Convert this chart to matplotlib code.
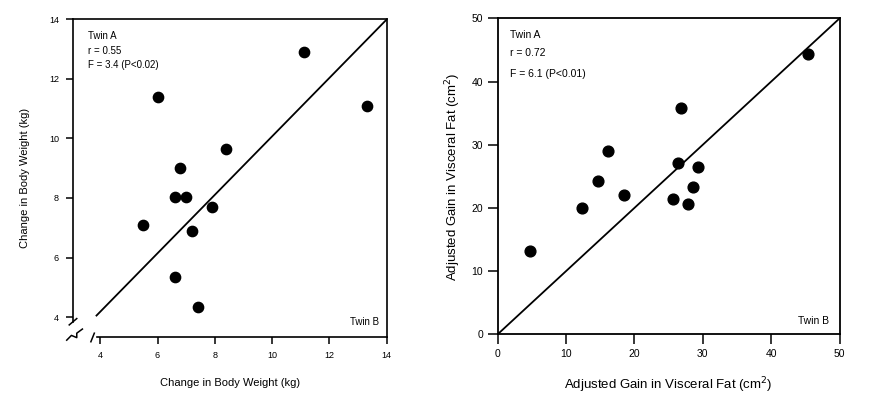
import numpy as np
import matplotlib
matplotlib.use("Agg")
import matplotlib.pyplot as plt

plt.rcParams['font.family'] = ['Liberation Sans', 'DejaVu Sans']

# Body weight change (kg): twin B on x, twin A on y
weight_b = [11.1, 13.3, 6.0, 8.4, 6.8, 6.6, 7.0, 7.9, 5.5, 7.2, 6.6, 7.4]
weight_a = [12.9, 11.1, 11.4, 9.65, 9.0, 8.05, 8.05, 7.7, 7.1, 6.9, 5.35, 4.35]
weight_ticks = [4, 6, 8, 10, 12, 14]

# Adjusted gain in visceral fat (cm2)
fat_b = [4.7, 12.3, 14.6, 16.1, 18.5, 26.8, 26.4, 25.6, 27.9, 28.5, 29.3, 45.4]
fat_a = [13.2, 20.0, 24.3, 29.0, 22.0, 35.8, 27.1, 21.4, 20.6, 23.3, 26.4, 44.3]
fat_ticks = [0, 10, 20, 30, 40, 50]

fig = plt.figure(figsize=(8.7, 3.94), dpi=100)

# ---- left panel: body weight ----
ax1 = fig.add_axes([0.0839, 0.1447, 0.3606, 0.806])
ax1.scatter(weight_b, weight_a, s=55, color='black', zorder=3)
ax1.plot([3.87, 14], [4.05, 14], color='black', lw=1.3)
ax1.set_xlim(3.05, 14)
ax1.set_ylim(3.33, 14)
ax1.set_xticks(weight_ticks)
ax1.set_yticks(weight_ticks)
for s in ['left', 'bottom', 'right', 'top']:
    ax1.spines[s].set_linewidth(1.2)
ax1.spines['left'].set_bounds(3.85, 14)
ax1.spines['bottom'].set_bounds(3.9, 14)
ax1.tick_params(direction='out', length=5, width=1.1, labelsize=6.5, pad=5)
ax1.set_xlabel('Change in Body Weight (kg)', fontsize=8, labelpad=13)
ax1.set_ylabel('Change in Body Weight (kg)', fontsize=8, labelpad=14)

# axis break marks
tr = ax1.transAxes
ax1.plot([-0.012, 0.012], [0.038, 0.058], transform=tr, color='black', lw=1.1, clip_on=False)
ax1.plot([-0.02, -0.005, 0.012, 0.012, 0.03], [-0.01, 0.005, -0.002, 0.012, 0.025],
         transform=tr, color='black', lw=1.1, clip_on=False)
ax1.plot([0.057, 0.068], [-0.015, 0.012], transform=tr, color='black', lw=1.1, clip_on=False)

ax1.text(0.048, 0.947, 'Twin A', transform=tr, fontsize=7, va='center')
ax1.text(0.048, 0.900, 'r = 0.55', transform=tr, fontsize=7, va='center')
ax1.text(0.048, 0.856, 'F = 3.4 (P<0.02)', transform=tr, fontsize=7, va='center')
ax1.text(0.975, 0.047, 'Twin B', transform=tr, fontsize=7, ha='right', va='center')

# ---- right panel: visceral fat ----
ax2 = fig.add_axes([0.572, 0.1515, 0.3931, 0.802])
ax2.scatter(fat_b, fat_a, s=60, color='black', zorder=3)
ax2.plot([0, 50], [0, 50], color='black', lw=1.3)
ax2.set_xlim(0, 50)
ax2.set_ylim(0, 50)
ax2.set_xticks(fat_ticks)
ax2.set_yticks(fat_ticks)
for s in ['left', 'bottom', 'right', 'top']:
    ax2.spines[s].set_linewidth(1.3)
ax2.tick_params(direction='out', length=7, width=1.1, labelsize=7.5)
ax2.set_xlabel('Adjusted Gain in Visceral Fat (cm$^2$)', fontsize=9.5, labelpad=12)
ax2.set_ylabel('Adjusted Gain in Visceral Fat (cm$^2$)', fontsize=9.5, labelpad=6)

tr2 = ax2.transAxes
ax2.text(0.036, 0.947, 'Twin A', transform=tr2, fontsize=7.5, va='center')
ax2.text(0.036, 0.890, 'r = 0.72', transform=tr2, fontsize=7.5, va='center')
ax2.text(0.036, 0.824, 'F = 6.1 (P<0.01)', transform=tr2, fontsize=7.5, va='center')
ax2.text(0.97, 0.043, 'Twin B', transform=tr2, fontsize=7.5, ha='right', va='center')

fig.savefig('out.png', dpi=100)
